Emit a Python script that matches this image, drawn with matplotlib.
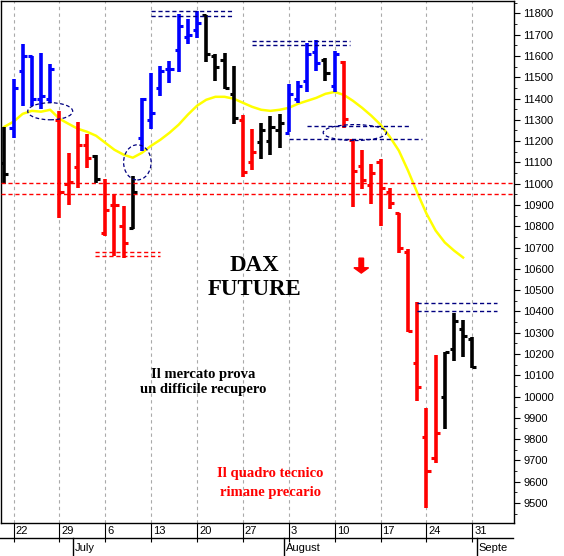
import matplotlib
matplotlib.use("Agg")
import matplotlib.pyplot as plt
from matplotlib.patches import Ellipse, FancyArrow
from matplotlib.lines import Line2D

opens  = [11098,11260,11530,11600,11400,11400,11300,11000,11080,11180,11130,10766,10900,10800,10790,11215,11300,11450,11540,11630,11690,11720,11790,11600,11580,11420,11300,11103,11197,11200,11250,11240,11400,11483,11620,11580,11460,11570,11206,11085,10995,11100,10960,10860,10680,10156,9810,9710,9997,10222,10316,10270]
highs  = [11267,11492,11656,11600,11614,11563,11342,11145,11290,11235,11136,11024,10953,10897,11038,11403,11520,11553,11577,11797,11773,11811,11792,11610,11614,11553,11324,11258,11286,11319,11328,11469,11483,11661,11675,11590,11624,11577,11206,11160,11094,11117,10981,10860,10695,10442,9945,10194,10208,10391,10358,10278]
lows   = [11000,11216,11366,11366,11350,11380,10840,10900,10980,11075,11005,10756,10658,10653,10785,11155,11258,11413,11474,11525,11656,11685,11572,11483,11445,11281,11033,11066,11117,11136,11169,11244,11380,11431,11530,11483,11431,11263,10892,10977,10906,10803,10883,10672,10305,9978,9477,9688,9847,10166,10184,10133]
closes = [11047,11450,11600,11400,11410,11540,10960,11010,11180,11120,11020,10875,10900,10720,10962,11400,11330,11530,11540,11740,11700,11755,11610,11550,11450,11310,11056,11150,11250,11267,11286,11422,11460,11610,11567,11520,11610,11305,11060,11015,11052,10981,10911,10700,10310,10044,9650,9828,10208,10353,10283,10140]
bar_colors = list("kbbbbbrrrrkrrrkbbbbbbbkkkkrrkkkbbbbkbrrrrrrrrrrrkkkk")
ma20 = [11267,11291,11328,11342,11338,11347,11305,11281,11258,11244,11225,11192,11159,11136,11122,11145,11178,11206,11239,11277,11324,11366,11394,11408,11408,11399,11380,11361,11347,11342,11347,11356,11375,11389,11403,11422,11431,11417,11389,11356,11319,11277,11221,11155,11061,10958,10860,10780,10724,10686,10653]
day_labels = ["22","29","6","13","20","27","3","10","17","24","31"]
day_pos = [1,6,11,16,21,26,31,36,41,46,51]
months = ["July","August","Septe"]
month_start = [8,31,52]
yticks = list(range(9500,11801,100))

cmap = {"k":"black","b":"#0000ff","r":"#ff0000"}
W,H = 564,556
fig = plt.figure(figsize=(W/100,H/100),dpi=100)
ax = fig.add_axes([0.001,1-523/H,513/W,522/H])
x0,x1 = -0.41,55.5
ax.set_xlim(x0,x1); ax.set_ylim(9406,11858)
for p in day_pos:
    ax.axvline(p,color="#aaaaaa",ls=(0,(3,3)),lw=0.8,zorder=0)
for i in range(len(opens)):
    c = cmap[bar_colors[i]]
    ax.vlines(i,lows[i],highs[i],color=c,lw=2.6,zorder=3)
    ax.hlines(opens[i],i-0.45,i,color=c,lw=2.2,zorder=3)
    ax.hlines(closes[i],i,i+0.45,color=c,lw=2.2,zorder=3)
ax.plot(range(len(ma20)),ma20,color="#ffff00",lw=1.8,zorder=2)
def hl(y,xa,xb,c):
    ax.plot([xa,xb],[y,y],color=c,ls=(0,(3,2)),lw=1,zorder=4)
for y in (11005,10951): hl(y,x0,x1,"red")
for y in (11811,11788): hl(y,16,24.8,"#000080")
for y in (10677,10658): hl(y,9.9,17,"red")
for y in (11670,11652): hl(y,27,37.7,"#000080")
hl(11272,33,44.2,"#000080"); hl(11211,31,45.5,"#000080")
for y in (10438,10400): hl(y,45,53.7,"#000080")
for (cx,cy,w,h) in [(5,11340,4.9,80),(14.5,11100,3.0,165),(38.2,11240,6.9,75)]:
    ax.add_patch(Ellipse((cx,cy),w,h,fill=False,ec="#000080",ls=(0,(3,2)),lw=0.9,zorder=5))
ax.add_patch(FancyArrow(38.9,10650,0,-45,width=0.5,head_width=1.6,head_length=25,color="red",zorder=5))
ax.text(27.3,10560,"DAX\nFUTURE",family="Liberation Serif",weight="bold",fontsize=16.5,ha="center",va="center",linespacing=1.15)
ax.text(21.7,10070,"Il mercato prova\nun difficile recupero",family="Liberation Serif",weight="bold",fontsize=10.5,ha="center",va="center",linespacing=1.2)
ax.text(29.0,9596,"Il quadro tecnico\nrimane precario",family="Liberation Serif",weight="bold",fontsize=10.5,ha="center",va="center",color="red",linespacing=1.6)
ax.yaxis.tick_right()
ax.set_yticks(yticks)
ax.set_yticks(range(9450,11851,50),minor=True)
ax.set_yticklabels([str(v) for v in yticks],family="Liberation Sans",fontsize=8)
ax.tick_params(axis="y",which="major",length=4,pad=3)
ax.tick_params(axis="y",which="minor",length=2)
ax.set_xticks(day_pos)
ax.set_xticklabels(day_labels,family="Liberation Sans",fontsize=8,ha="left")
ax.tick_params(axis="x",length=14,direction="out",pad=-12)
for lab in ax.get_xticklabels():
    lab.set_transform(lab.get_transform()+matplotlib.transforms.ScaledTranslation(2/100,0,fig.dpi_scale_trans))
for s in ax.spines.values(): s.set_linewidth(1)
def xf(i): return (0.001+ (i-x0)/(x1-x0)*513/W)
yl = 1-538/H
fig.add_artist(Line2D([0,513/W],[yl,yl],color="black",lw=1))
for i,m in zip(month_start,months):
    fig.add_artist(Line2D([xf(i)-0.5/W*9.2,xf(i)-0.5/W*9.2],[yl,0],color="black",lw=1))
    fig.text(xf(i)-0.5/W*9.2+2/W,1-548/H,m,family="Liberation Sans",fontsize=8,va="center")
fig.savefig("out.png",dpi=100)
